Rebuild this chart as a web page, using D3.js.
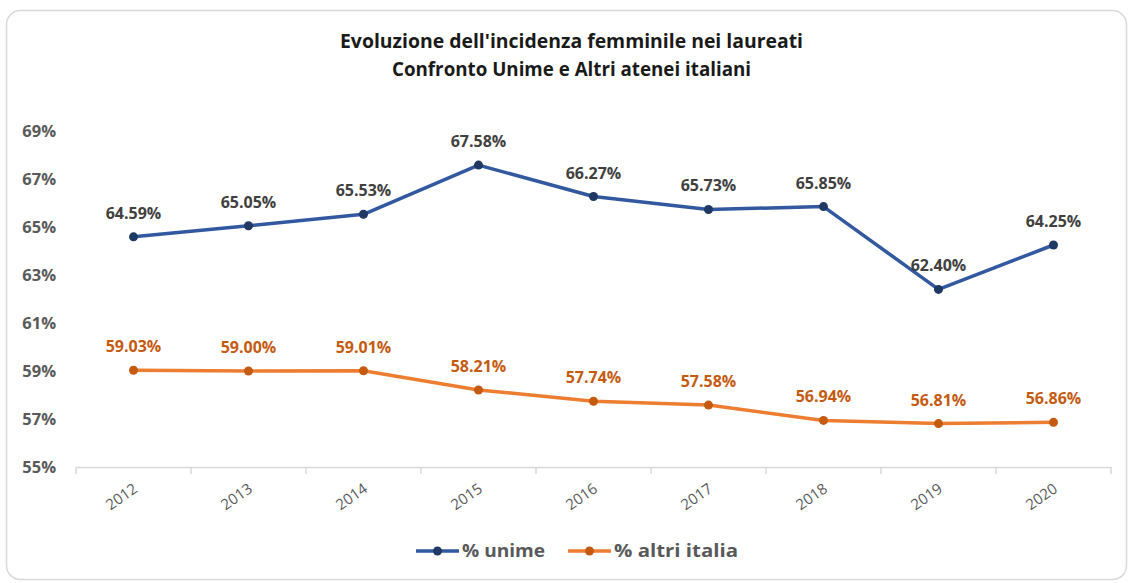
<!DOCTYPE html>
<html><head><meta charset="utf-8">
<script src="https://cdn.jsdelivr.net/npm/d3@7"></script>
<style>html,body{margin:0;padding:0;background:#fff;}svg{display:block;}</style>
</head><body><svg id="c" width="1129" height="583"></svg>
<script>
const years = ["2012","2013","2014","2015","2016","2017","2018","2019","2020"];
const unime = [64.59,65.05,65.53,67.58,66.27,65.73,65.85,62.40,64.25];
const altri = [59.03,59.00,59.01,58.21,57.74,57.58,56.94,56.81,56.86];
const yTicks = [55,57,59,61,63,65,67,69];
const seriesNames = ["% unime","% altri italia"];
const titleLines = ["Evoluzione dell'incidenza femminile nei laureati","Confronto Unime e Altri atenei italiani"];

const font = "'Open Sans', 'Liberation Sans', sans-serif";
const titleFont = "'Liberation Sans Narrow', 'Open Sans', sans-serif";
const svg = d3.select("#c");
svg.append("rect").attr("x",6.5).attr("y",10.5).attr("width",1120).attr("height",569)
  .attr("rx",14).attr("fill","#fff").attr("stroke","#d9d9d9").attr("stroke-width",1.5);

// title
const tw = [463, 359];
titleLines.forEach((t,i)=>{
  svg.append("text").attr("x",571.5).attr("y",48+i*28).attr("text-anchor","middle")
    .attr("font-family",titleFont).attr("font-weight","bold").attr("font-size",19).attr("fill","#1a1a1a")
    .attr("textLength", tw[i]).attr("lengthAdjust","spacingAndGlyphs").text(t);
});

const x = d3.scaleBand().domain(years).range([76,1111]);
const y = d3.scaleLinear().domain([55,69]).range([467,131]);

// x axis
const xa = svg.append("g").attr("transform","translate(0,467)")
  .call(d3.axisBottom(x).tickSize(0).tickFormat(""));
xa.select(".domain").attr("stroke","#d9d9d9").attr("stroke-width",1.5);
const bounds = years.map(d=>x(d)).concat([x.range()[1]]);
svg.append("g").selectAll("line").data(bounds).join("line")
  .attr("x1",d=>d).attr("x2",d=>d).attr("y1",467).attr("y2",474)
  .attr("stroke","#d9d9d9").attr("stroke-width",1.5);
svg.append("g").selectAll("text").data(years).join("text")
  .attr("transform",d=>`translate(${x(d)+x.bandwidth()/2+5},${491}) rotate(-35)`)
  .attr("text-anchor","end").attr("font-family",font).attr("font-size",15)
  .attr("fill","#595959").text(d=>d);

// y axis labels
const ya = svg.append("g").attr("transform","translate(56,0)")
  .call(d3.axisLeft(y).tickValues(yTicks).tickSize(0).tickPadding(0).tickFormat(d=>d+"%"));
ya.select(".domain").remove();
ya.selectAll("text").attr("font-family",font).attr("font-weight","bold").attr("font-size",16.5)
  .attr("fill","#595959").attr("dy","0.35em");

const cx = d => x(d)+x.bandwidth()/2;
const line = d3.line().x((d,i)=>cx(years[i])).y(d=>y(d));
const series = [
  {vals:unime, line:"#3258A0", mark:"#1F3864", label:"#404040"},
  {vals:altri, line:"#ED7D31", mark:"#C55A11", label:"#C55A11"}
];
series.forEach(s=>{
  svg.append("path").datum(s.vals).attr("d",line).attr("fill","none")
    .attr("stroke",s.line).attr("stroke-width",3.5).attr("stroke-linejoin","round");
  svg.append("g").selectAll("circle").data(s.vals).join("circle")
    .attr("cx",(d,i)=>cx(years[i])).attr("cy",d=>y(d)).attr("r",4.5).attr("fill",s.mark);
  svg.append("g").selectAll("text").data(s.vals).join("text")
    .attr("x",(d,i)=>cx(years[i])).attr("y",d=>y(d)-18).attr("text-anchor","middle")
    .attr("font-family",font).attr("font-weight","bold").attr("font-size",16)
    .attr("fill",s.label).text(d=>d.toFixed(2)+"%");
});

// legend
const leg = [{x:416, c:series[0], w:83},{x:568, c:series[1], w:124}];
leg.forEach((l,i)=>{
  const g = svg.append("g");
  g.append("line").attr("x1",l.x).attr("x2",l.x+43).attr("y1",551).attr("y2",551)
    .attr("stroke",l.c.line).attr("stroke-width",3.5);
  g.append("circle").attr("cx",l.x+21.5).attr("cy",551).attr("r",4.5).attr("fill",l.c.mark);
  g.append("text").attr("x",l.x+46).attr("y",551).attr("dy","0.35em")
    .attr("font-family",font).attr("font-weight","bold").attr("font-size",18)
    .attr("textLength",l.w).attr("lengthAdjust","spacingAndGlyphs")
    .attr("fill","#595959").text(seriesNames[i]);
});
</script></body></html>
